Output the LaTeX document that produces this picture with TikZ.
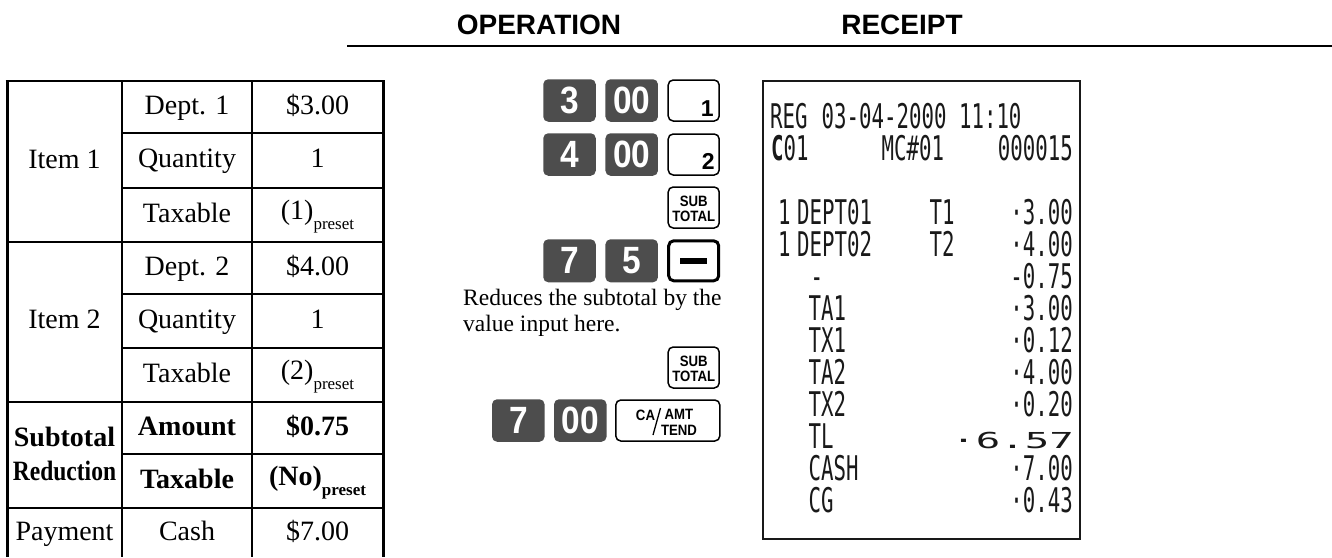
\documentclass[tikz,border=0pt]{standalone}
\usepackage{fontspec}
\setmainfont{Liberation Serif}
\newfontfamily\keyfont{Liberation Sans}
\newfontfamily\rfont{DejaVu Sans Mono}
\definecolor{keydark}{RGB}{77,77,77}
\definecolor{rink}{RGB}{25,25,25}
\newcommand\rt[1]{\scalebox{0.61}[1]{\fontsize{34}{34}\selectfont\rfont #1}}
\newcommand\rbig[1]{\scalebox{1.85}[1]{\fontsize{22}{22}\selectfont\rfont #1}}
\newcommand\ps[1]{\raisebox{-10pt}{\fontsize{17}{17}\selectfont #1}}
\newcommand\kd[1]{\scalebox{0.88}[1]{\fontsize{38}{38}\selectfont\keyfont\bfseries #1}}
\newcommand\kl[1]{\scalebox{0.88}[1]{\fontsize{15}{15}\selectfont\keyfont\bfseries #1}}
\tikzset{
  tc/.style={inner sep=0pt, anchor=base, font=\fontsize{28}{30}\selectfont},
  tb/.style={inner sep=0pt, anchor=base, font=\fontsize{28}{30}\selectfont\bfseries},
  tline/.style={line width=1.2pt},
  tborder/.style={line width=3pt},
  dkey/.style={fill=keydark, rounded corners=5pt, inner sep=0pt, text=white, minimum width=52.5pt, minimum height=42.5pt},
  okey/.style={draw, line width=1.5pt, rounded corners=5pt, inner sep=0pt, minimum width=51pt, minimum height=41pt},
  hd/.style={inner sep=0pt, font=\fontsize{28}{28}\selectfont\keyfont\bfseries},
  note/.style={inner sep=0pt, anchor=base west, font=\fontsize{23.5}{26.7}\selectfont},
  rc/.style={inner sep=0pt, anchor=base west, text=rink},
  rcr/.style={inner sep=0pt, anchor=base east, text=rink},
  kdig/.style={inner sep=0pt, anchor=base east, font=\fontsize{23}{23}\selectfont\keyfont\bfseries}
}
\begin{document}
\begin{tikzpicture}[x=1pt,y=-1pt]
\useasboundingbox (0,0) rectangle (1332,557);

% header
\node[hd] (op) at (539,25) {OPERATION};
\node[hd] (rh) at (902,25) {RECEIPT};
\coordinate (hl) at (347,46);
\coordinate (hr) at (1332,46);
\draw[line width=1.5pt] (hl) -- (hr);

% table lines
\draw[tline] (122,81) -- (122,557);
\draw[tline] (252,81) -- (252,557);
\foreach \yy in {242,402,508} \draw[tline] (7,\yy) -- (383,\yy);
\foreach \yy in {133,188,294,348,454} \draw[tline] (122,\yy) -- (383,\yy);
\draw[line width=2pt] (5.5,81) -- (384.5,81);
\draw[tborder] (7,80) -- (7,557);
\draw[tborder] (383,80) -- (383,557);

% table text
\node[tc] (i1) at (64.5,168) {Item 1};
\node[tc] (d1) at (187,114) {Dept. 1};
\node[tc] (v1) at (317.5,114) {\$3.00};
\node[tc] (q1) at (187,167.5) {Quantity};
\node[tc] (qv1) at (317.5,167.5) {1};
\node[tc] (t1) at (187,222) {Taxable};
\node[tc] (tv1) at (317.5,219) {(1)\ps{preset}};

\node[tc] (i2) at (64.5,328) {Item 2};
\node[tc] (d2) at (187,275) {Dept. 2};
\node[tc] (v2) at (317.5,275) {\$4.00};
\node[tc] (q2) at (187,328) {Quantity};
\node[tc] (qv2) at (317.5,328) {1};
\node[tc] (t2) at (187,382) {Taxable};
\node[tc] (tv2) at (317.5,379) {(2)\ps{preset}};

\node[tb] (s1) at (64.5,446) {Subtotal};
\node[tb] (s2) at (64.5,480) {\scalebox{0.84}[1]{Reduction}};
\node[tb] (am) at (187,435) {Amount};
\node[tb] (amv) at (317.5,435) {\$0.75};
\node[tb] (tx) at (187,488) {Taxable};
\node[tb] (txv) at (317.5,485) {(No)\ps{\bfseries preset}};

\node[tc] (pay) at (64.5,540) {Payment};
\node[tc] (cash) at (187,540) {Cash};
\node[tc] (cashv) at (317.5,540) {\$7.00};

% keys
\node[dkey] (k3) at (569.5,100.5) {\kd{3}};
\node[dkey] (k00a) at (631.7,100.5) {\kd{00}};
\node[okey] (kd1) at (693.7,100.5) {};
\node[kdig] (kd1t) at ([xshift=-6pt,yshift=5pt]kd1.south east) {1};

\node[dkey] (k4) at (569.5,154.5) {\kd{4}};
\node[dkey] (k00b) at (631.7,154.5) {\kd{00}};
\node[okey] (kd2) at (693.7,154.5) {};
\node[kdig] (kd2t) at ([xshift=-5pt,yshift=6pt]kd2.south east) {2};

\node[okey] (st1) at (693.7,207.5) {};
\node[inner sep=0pt] (st1a) at (693.7,201.5) {\kl{SUB}};
\node[inner sep=0pt] (st1b) at (693.7,216) {\kl{TOTAL}};

\node[dkey, minimum height=43pt] (k7) at (569.5,260.8) {\kd{7}};
\node[dkey, minimum height=43pt] (k5) at (631.7,260.8) {\kd{5}};
\node[okey, line width=3pt, minimum width=50pt, minimum height=40pt] (kmin) at (693.7,260.8) {};
\fill (680,257.8) rectangle (707,263.8);

\node[note] (n1) at (463,305) {Reduces the subtotal by the};
\node[note] (n2) at (463,331.7) {value input here.};

\node[okey] (st2) at (693.7,367.5) {};
\node[inner sep=0pt] (st2a) at (693.7,361.5) {\kl{SUB}};
\node[inner sep=0pt] (st2b) at (693.7,376) {\kl{TOTAL}};

\node[dkey] (k7b) at (518.3,420.5) {\kd{7}};
\node[dkey] (k00c) at (580.3,420.5) {\kd{00}};
\node[okey, minimum width=104pt] (ca) at (667.8,420.5) {};
\node[inner sep=0pt] (caa) at (645.5,415) {\kl{CA}};
\coordinate (sl1) at (653,435);
\coordinate (sl2) at (660.5,408);
\draw[line width=1.3pt] (sl1) -- (sl2);
\node[inner sep=0pt] (cab) at (679,414) {\kl{AMT}};
\node[inner sep=0pt] (cac) at (679,430) {\kl{TEND}};

% receipt
\draw[line width=1.3pt, draw=rink] (763,81) rectangle (1080,539);
\node[rc] (r0a) at (770,128.2) {\rt{REG}};
\node[rc] (r0b) at (821.5,128.2) {\rt{03-04-2000 11:10}};
\node[rc] (r1a) at (771,160.2) {\rt{\textbf{C}01}};
\node[rc] (r1b) at (881.5,160.2) {\rt{MC\#01}};
\node[rcr] (r1c) at (1073,160.2) {\rt{000015}};

\node[rc] (r3a) at (778,224.2) {\rt{1}};
\node[rc] (r3b) at (797,224.2) {\rt{DEPT01}};
\node[rc] (r3c) at (929.5,224.2) {\rt{T1}};
\node[rcr] (r3d) at (1073,224.2) {\rt{·3.00}};

\node[rc] (r4a) at (778,256.2) {\rt{1}};
\node[rc] (r4b) at (797,256.2) {\rt{DEPT02}};
\node[rc] (r4c) at (929.5,256.2) {\rt{T2}};
\node[rcr] (r4d) at (1073,256.2) {\rt{·4.00}};

\node[rc] (r5a) at (810.5,288.2) {\rt{-}};
\node[rcr] (r5b) at (1073,288.2) {\rt{-0.75}};

\node[rc] (r6a) at (808.5,320.2) {\rt{TA1}};
\node[rcr] (r6b) at (1073,320.2) {\rt{·3.00}};
\node[rc] (r7a) at (808.5,352.2) {\rt{TX1}};
\node[rcr] (r7b) at (1073,352.2) {\rt{·0.12}};
\node[rc] (r8a) at (808.5,384.2) {\rt{TA2}};
\node[rcr] (r8b) at (1073,384.2) {\rt{·4.00}};
\node[rc] (r9a) at (808.5,416.2) {\rt{TX2}};
\node[rcr] (r9b) at (1073,416.2) {\rt{·0.20}};
\node[rc] (r10a) at (808.5,448.2) {\rt{TL}};
\node[rcr] (r10b) at (1074,448.2) {\rbig{·6.57}};
\node[rc] (r11a) at (808.5,480.2) {\rt{CASH}};
\node[rcr] (r11b) at (1073,480.2) {\rt{·7.00}};
\node[rc] (r12a) at (808.5,512.2) {\rt{CG}};
\node[rcr] (r12b) at (1073,512.2) {\rt{·0.43}};
\end{tikzpicture}
\end{document}
